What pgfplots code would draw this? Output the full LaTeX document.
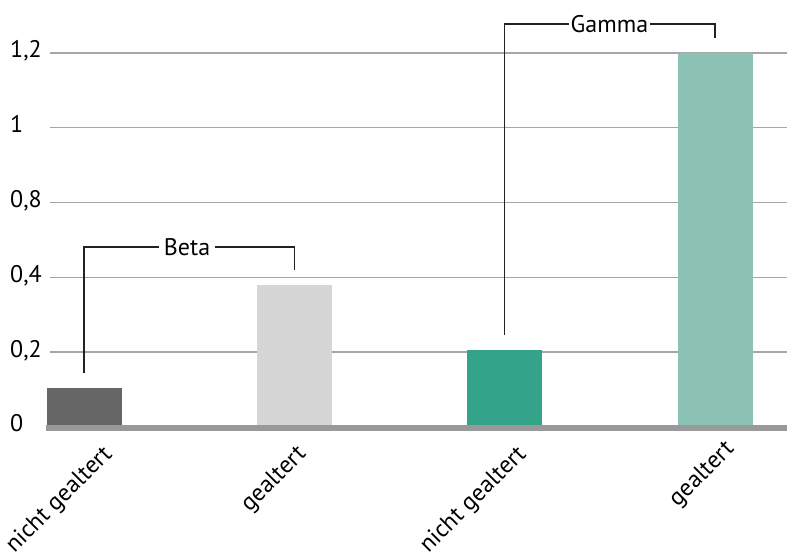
\documentclass[border=0pt]{standalone}
\usepackage{pgfplots}
\pgfplotsset{compat=1.18}
\usepackage{fontspec}
\setmainfont{PT Sans}

\definecolor{barA}{HTML}{666666}
\definecolor{barB}{HTML}{D6D6D6}
\definecolor{barC}{HTML}{33A389}
\definecolor{barD}{HTML}{8CC2B3}
\definecolor{gridc}{HTML}{A6A6A6}
\definecolor{basec}{HTML}{999999}
\definecolor{bracket}{HTML}{222222}

\newcommand{\lblfont}{\fontsize{24bp}{28bp}\selectfont}

\begin{document}
\begin{tikzpicture}
\begin{axis}[
  at={(46bp,131bp)}, anchor=south west,
  scale only axis, width=741bp, height=427bp,
  xmin=-0.1807, xmax=3.342,
  ymin=0, ymax=1.37,
  clip=false,
  axis line style={draw=none},
  major tick length=0pt,
  xtick=\empty,
  ytick={0,0.24,0.48,0.72,0.96,1.2},
  yticklabels={0,{0,2},{0,4},{0,8},1,{1,2}},
  yticklabel style={font=\lblfont, anchor=base west, inner sep=0pt, xshift=-36bp, yshift=-5bp},
  /pgf/number format/assume math mode=true,
]
% horizontal grid
\pgfplotsinvokeforeach{0.24,0.48,0.72,0.96,1.2}{
  \draw[gridc, line width=1.4bp] (axis cs:-0.1617,#1) -- (axis cs:3.342,#1);
}
% bars
\addplot[ybar, bar shift=0pt, bar width=75bp, fill=barA, draw=none] coordinates {(0,0.125)};
\addplot[ybar, bar shift=0pt, bar width=75bp, fill=barB, draw=none] coordinates {(1,0.456)};
\addplot[ybar, bar shift=0pt, bar width=75bp, fill=barC, draw=none] coordinates {(2,0.247)};
\addplot[ybar, bar shift=0pt, bar width=75bp, fill=barD, draw=none] coordinates {(3,1.2)};
% baseline
\draw[basec, line width=6bp] (axis cs:-0.1807,-0.0032) -- (axis cs:3.342,-0.0032);
% category labels
\tikzset{catlbl/.style={font=\lblfont, rotate=45, anchor=north east, inner sep=0pt}}
\node[catlbl] at (axis cs:0.0808,-0.0513) {nicht gealtert};
\node[catlbl] at (axis cs:1.0032,-0.0513) {gealtert};
\node[catlbl] at (axis cs:2.049,-0.0513) {nicht gealtert};
\node[catlbl] at (axis cs:3.038,-0.0353) {gealtert};
% group brackets
\draw[bracket, line width=1.4bp] (axis cs:0,0.173) |- (axis cs:1,0.578) -- (axis cs:1,0.504);
\node[fill=white, inner xsep=5bp, inner ysep=1bp, font=\lblfont] at (axis cs:0.49,0.578) {Beta};
\draw[bracket, line width=1.4bp] (axis cs:2,0.295) |- (axis cs:3,1.293) -- (axis cs:3,1.248);
\node[fill=white, inner xsep=2bp, inner ysep=1bp, font=\lblfont] at (axis cs:2.498,1.293) {Gamma};
\end{axis}
\pgfresetboundingbox
\useasboundingbox (0,0) rectangle (787bp,558bp);
\end{tikzpicture}
\end{document}
